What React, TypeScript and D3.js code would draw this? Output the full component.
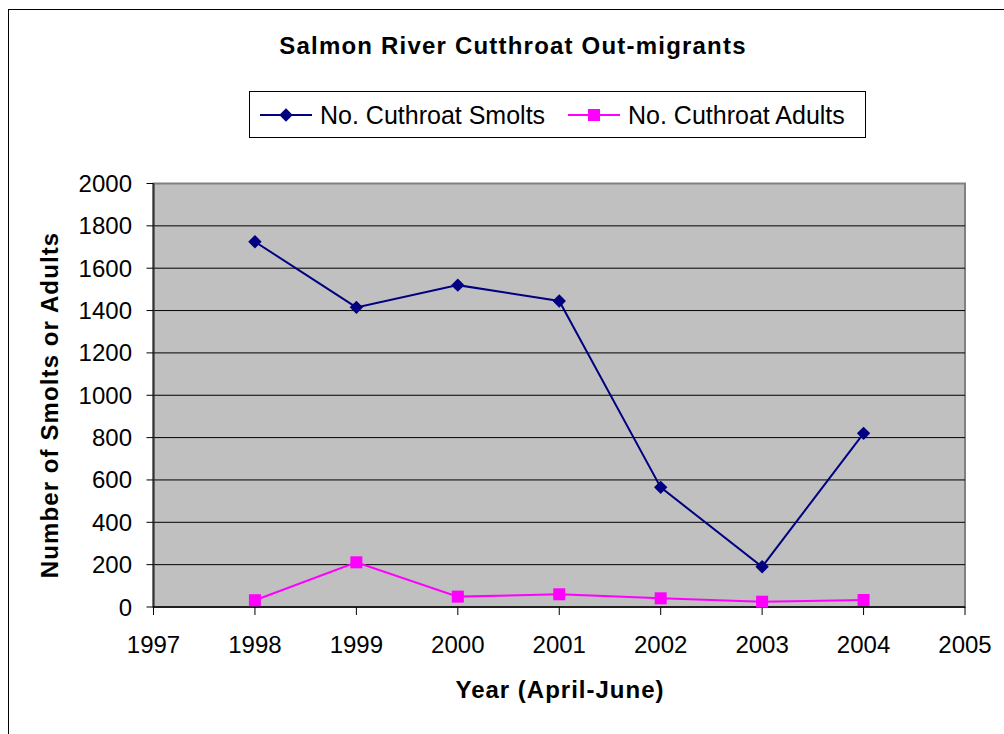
import { useEffect, useRef } from "react";
import * as d3 from "d3";

const years = [1998, 1999, 2000, 2001, 2002, 2003, 2004];
const smolts = [1725, 1415, 1520, 1445, 565, 190, 820];
const adults = [32, 211, 49, 60, 41, 25, 33];
const xTicks = [1997, 1998, 1999, 2000, 2001, 2002, 2003, 2004, 2005];
const yTicks = [0, 200, 400, 600, 800, 1000, 1200, 1400, 1600, 1800, 2000];

const FONT = "'Liberation Sans', Arial, sans-serif";
const SMOLT_COLOR = "#000080";
const ADULT_COLOR = "#FF00FF";

const App = () => {
  const ref = useRef<SVGSVGElement>(null);

  useEffect(() => {
    const width = 1004;
    const height = 734;
    const left = 153.5;
    const right = 965;
    const top = 183.5;
    const bottom = 607;

    const svg = d3.select(ref.current).attr("width", width).attr("height", height);
    svg.selectAll("*").remove();

    const x = d3.scaleLinear().domain([1997, 2005]).range([left, right]);
    const y = d3.scaleLinear().domain([0, 2000]).range([bottom, top]);

    // outer chart frame (runs off the right/bottom edge)
    svg.append("rect")
      .attr("x", 8.5).attr("y", 9.5)
      .attr("width", width).attr("height", height)
      .attr("fill", "white").attr("stroke", "#000").attr("stroke-width", 1);

    // title
    svg.append("text")
      .attr("x", 513).attr("y", 54)
      .attr("text-anchor", "middle")
      .attr("font-family", FONT).attr("font-weight", "bold")
      .attr("font-size", 24).attr("letter-spacing", 1.2)
      .text("Salmon River Cutthroat Out-migrants");

    // plot area
    svg.append("rect")
      .attr("x", left).attr("y", top)
      .attr("width", right - left).attr("height", bottom - top)
      .attr("fill", "#C0C0C0").attr("stroke", "#808080").attr("stroke-width", 2);

    // gridlines
    svg.append("g")
      .selectAll("line")
      .data(yTicks.filter((d) => d > 0 && d < 2000))
      .join("line")
      .attr("x1", left).attr("x2", right)
      .attr("y1", (d) => y(d)).attr("y2", (d) => y(d))
      .attr("stroke", "#000").attr("stroke-width", 1);

    // axes lines
    svg.append("line")
      .attr("x1", left).attr("x2", left).attr("y1", top).attr("y2", bottom)
      .attr("stroke", "#333").attr("stroke-width", 2);
    svg.append("line")
      .attr("x1", left).attr("x2", right).attr("y1", bottom).attr("y2", bottom)
      .attr("stroke", "#000").attr("stroke-width", 1.5);

    // y ticks + labels
    const yg = svg.append("g");
    yg.selectAll("line")
      .data(yTicks)
      .join("line")
      .attr("x1", left - 7).attr("x2", left)
      .attr("y1", (d) => y(d)).attr("y2", (d) => y(d))
      .attr("stroke", "#000").attr("stroke-width", 1);
    yg.selectAll("text")
      .data(yTicks)
      .join("text")
      .attr("x", 132).attr("y", (d) => y(d) + 8.5)
      .attr("text-anchor", "end")
      .attr("font-family", FONT).attr("font-size", 24)
      .text((d) => d);

    // x ticks + labels
    const xg = svg.append("g");
    xg.selectAll("line")
      .data(xTicks)
      .join("line")
      .attr("x1", (d) => x(d)).attr("x2", (d) => x(d))
      .attr("y1", bottom).attr("y2", bottom + 8)
      .attr("stroke", "#000").attr("stroke-width", 1);
    xg.selectAll("text")
      .data(xTicks)
      .join("text")
      .attr("x", (d) => x(d)).attr("y", 653)
      .attr("text-anchor", "middle")
      .attr("font-family", FONT).attr("font-size", 24)
      .text((d) => d);

    // axis titles
    svg.append("text")
      .attr("x", 560).attr("y", 698)
      .attr("text-anchor", "middle")
      .attr("font-family", FONT).attr("font-weight", "bold")
      .attr("font-size", 24).attr("letter-spacing", 1)
      .text("Year (April-June)");
    svg.append("text")
      .attr("transform", "translate(58,405) rotate(-90)")
      .attr("text-anchor", "middle")
      .attr("font-family", FONT).attr("font-weight", "bold")
      .attr("font-size", 24).attr("letter-spacing", 1.1)
      .text("Number of Smolts or Adults");

    const line = d3.line<number>()
      .x((_, i) => x(years[i]))
      .y((d) => y(d));

    const diamond = d3.symbol().type(d3.symbolSquare).size(90);
    const square = d3.symbol().type(d3.symbolSquare).size(144);

    // smolts
    svg.append("path")
      .attr("d", line(smolts))
      .attr("fill", "none").attr("stroke", SMOLT_COLOR).attr("stroke-width", 2);
    svg.append("g")
      .selectAll("path")
      .data(smolts)
      .join("path")
      .attr("d", diamond)
      .attr("transform", (d, i) => `translate(${x(years[i])},${y(d)}) rotate(45)`)
      .attr("fill", SMOLT_COLOR);

    // adults
    svg.append("path")
      .attr("d", line(adults))
      .attr("fill", "none").attr("stroke", ADULT_COLOR).attr("stroke-width", 2);
    svg.append("g")
      .selectAll("path")
      .data(adults)
      .join("path")
      .attr("d", square)
      .attr("transform", (d, i) => `translate(${x(years[i])},${y(d)})`)
      .attr("fill", ADULT_COLOR);

    // legend
    const lg = svg.append("g");
    lg.append("rect")
      .attr("x", 249.5).attr("y", 91.5).attr("width", 616).attr("height", 46)
      .attr("fill", "white").attr("stroke", "#000").attr("stroke-width", 1);
    const items = [
      { label: "No. Cuthroat Smolts", color: SMOLT_COLOR, sym: diamond, rot: 45, x0: 260 },
      { label: "No. Cuthroat Adults", color: ADULT_COLOR, sym: square, rot: 0, x0: 568 },
    ];
    items.forEach((it) => {
      lg.append("line")
        .attr("x1", it.x0).attr("x2", it.x0 + 52).attr("y1", 115).attr("y2", 115)
        .attr("stroke", it.color).attr("stroke-width", 2);
      lg.append("path")
        .attr("d", it.sym)
        .attr("transform", `translate(${it.x0 + 26},115) rotate(${it.rot})`)
        .attr("fill", it.color);
      lg.append("text")
        .attr("x", it.x0 + 60).attr("y", 123.5)
        .attr("font-family", FONT).attr("font-size", 25)
        .text(it.label);
    });
  }, []);

  return (
    <div style={{ position: "absolute", left: 0, top: 0, width: 1004, height: 734, overflow: "hidden" }}>
      <svg ref={ref} style={{ display: "block" }}></svg>
    </div>
  );
};

export default App;
